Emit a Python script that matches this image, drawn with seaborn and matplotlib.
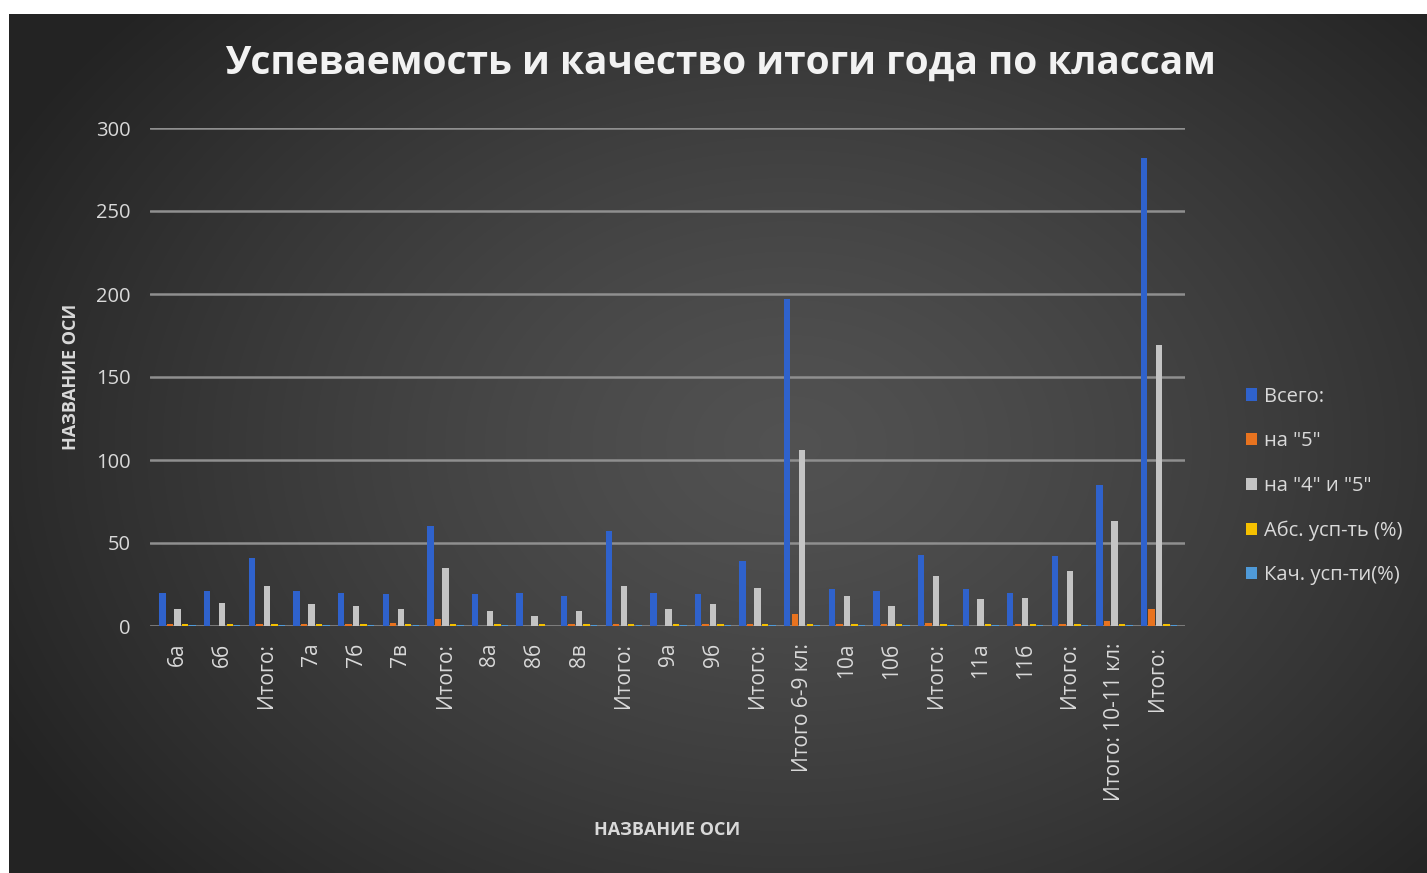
import numpy as np
import pandas as pd
import matplotlib
matplotlib.use("Agg")
import matplotlib.pyplot as plt
import seaborn as sns

categories = ["6а", "6б", "Итого:", "7а", "7б", "7в", "Итого:", "8а", "8б", "8в", "Итого:",
              "9а", "9б", "Итого:", "Итого 6-9 кл:", "10а", "10б", "Итого:", "11а", "11б",
              "Итого:", "Итого: 10-11 кл:", "Итого: "]
vsego = [20, 21, 41, 21, 20, 19, 60, 19, 20, 18, 57, 20, 19, 39, 197, 22, 21, 43, 22, 20, 42, 85, 282]
na5 = [1, 0, 1, 1, 1, 2, 4, 0, 0, 1, 1, 0, 1, 1, 7, 1, 1, 2, 0, 1, 1, 3, 10]
na45 = [10, 14, 24, 13, 12, 10, 35, 9, 6, 9, 24, 10, 13, 23, 106, 18, 12, 30, 16, 17, 33, 63, 169]
abs_usp = [1.0] * 23
kach_usp = [0.5, 0.67, 0.59, 0.62, 0.6, 0.53, 0.58, 0.47, 0.3, 0.5, 0.42, 0.5, 0.68, 0.59,
            0.54, 0.82, 0.57, 0.7, 0.73, 0.85, 0.79, 0.74, 0.6]
series_names = ["Всего:", 'на "5"', 'на "4" и "5"', "Абс. усп-ть (%)", "Кач. усп-ти(%)"]
colors = ["#2f62cc", "#e8731f", "#c4c4c4", "#f5c000", "#4f9ad8"]

rows = []
series_values = [vsego, na5, na45, abs_usp, kach_usp]
for name, vals in zip(series_names, series_values):
    for i, (c, v) in enumerate(zip(categories, vals)):
        rows.append({"pos": i, "cat": c, "series": name, "value": v})
df = pd.DataFrame(rows)

sns.set_theme(style="dark")
plt.rcParams["font.family"] = ["Open Sans", "DejaVu Sans"]

W, H = 1427, 873
fig = plt.figure(figsize=(W / 100, H / 100), dpi=100)
fig.patch.set_facecolor("white")

# background radial gradient
bg = fig.add_axes([9 / W, 0, 1 - 9 / W, (H - 14) / H], zorder=-5)
ny, nx = 300, 500
yy, xx = np.mgrid[0:ny, 0:nx]
cx, cy = nx * 0.55, ny * 0.5
r = np.sqrt(((xx - cx) / (nx * 0.62)) ** 2 + ((yy - cy) / (ny * 0.75)) ** 2)
r = np.clip(r, 0, 1)
val = 0.32 - 0.18 * r ** 1.3
img = np.dstack([val, val, val])
bg.imshow(img, aspect="auto", extent=[0, 1, 0, 1], interpolation="bicubic")
bg.axis("off")

ax = fig.add_axes([150 / W, (H - 626) / H, (1185 - 150) / W, (626 - 128) / H])
ax.set_facecolor("none")
sns.barplot(data=df, x="pos", y="value", hue="series", hue_order=series_names,
            palette=colors, width=0.84, gap=0.15, ax=ax, saturation=1,
            legend=True, native_scale=False, zorder=3, linewidth=0, edgecolor="none")

ax.set_ylim(0, 300)
ax.set_xlim(-0.62, 22.58)
ax.set_yticks([0, 50, 100, 150, 200, 250, 300])
ax.yaxis.grid(True, color="#8f8f8f", linewidth=1.8, zorder=0)
ax.xaxis.grid(False)
for s in ax.spines.values():
    s.set_visible(False)
ax.set_xticks(range(len(categories)))
ax.set_xticklabels(categories, rotation=90, va="top", ha="center")
ax.tick_params(axis="x", colors="#d9d9d9", labelsize=15, pad=12, length=0)
ax.tick_params(axis="y", colors="#d9d9d9", labelsize=14.5, pad=14, length=0)

ax.set_xlabel("НАЗВАНИЕ ОСИ", color="#d9d9d9", fontsize=13, fontweight="bold")
ax.xaxis.set_label_coords(0.5, (626 - 830) / (626 - 128))
ax.set_ylabel("НАЗВАНИЕ ОСИ", color="#d9d9d9", fontsize=13, fontweight="bold")
ax.yaxis.set_label_coords((71 - 150) / (1185 - 150), 0.5)
ax.yaxis.label.set_va("center")
ax.xaxis.label.set_va("center")

fig.text(0.505, 1 - 63 / H, "Успеваемость и качество итоги года по классам",
         ha="center", va="center", color="#f2f2f2", fontsize=28, fontweight="bold")

handles, labels = ax.get_legend_handles_labels()
ax.legend_.remove()
leg = fig.legend(handles, labels, loc="center left", bbox_to_anchor=(1228 / W, 1 - 486 / H),
                 frameon=False, fontsize=14.5, labelcolor="#d9d9d9", handlelength=0.55,
                 handleheight=0.55, handletextpad=0.35, labelspacing=1.22)

fig.savefig("out.png", dpi=100)
